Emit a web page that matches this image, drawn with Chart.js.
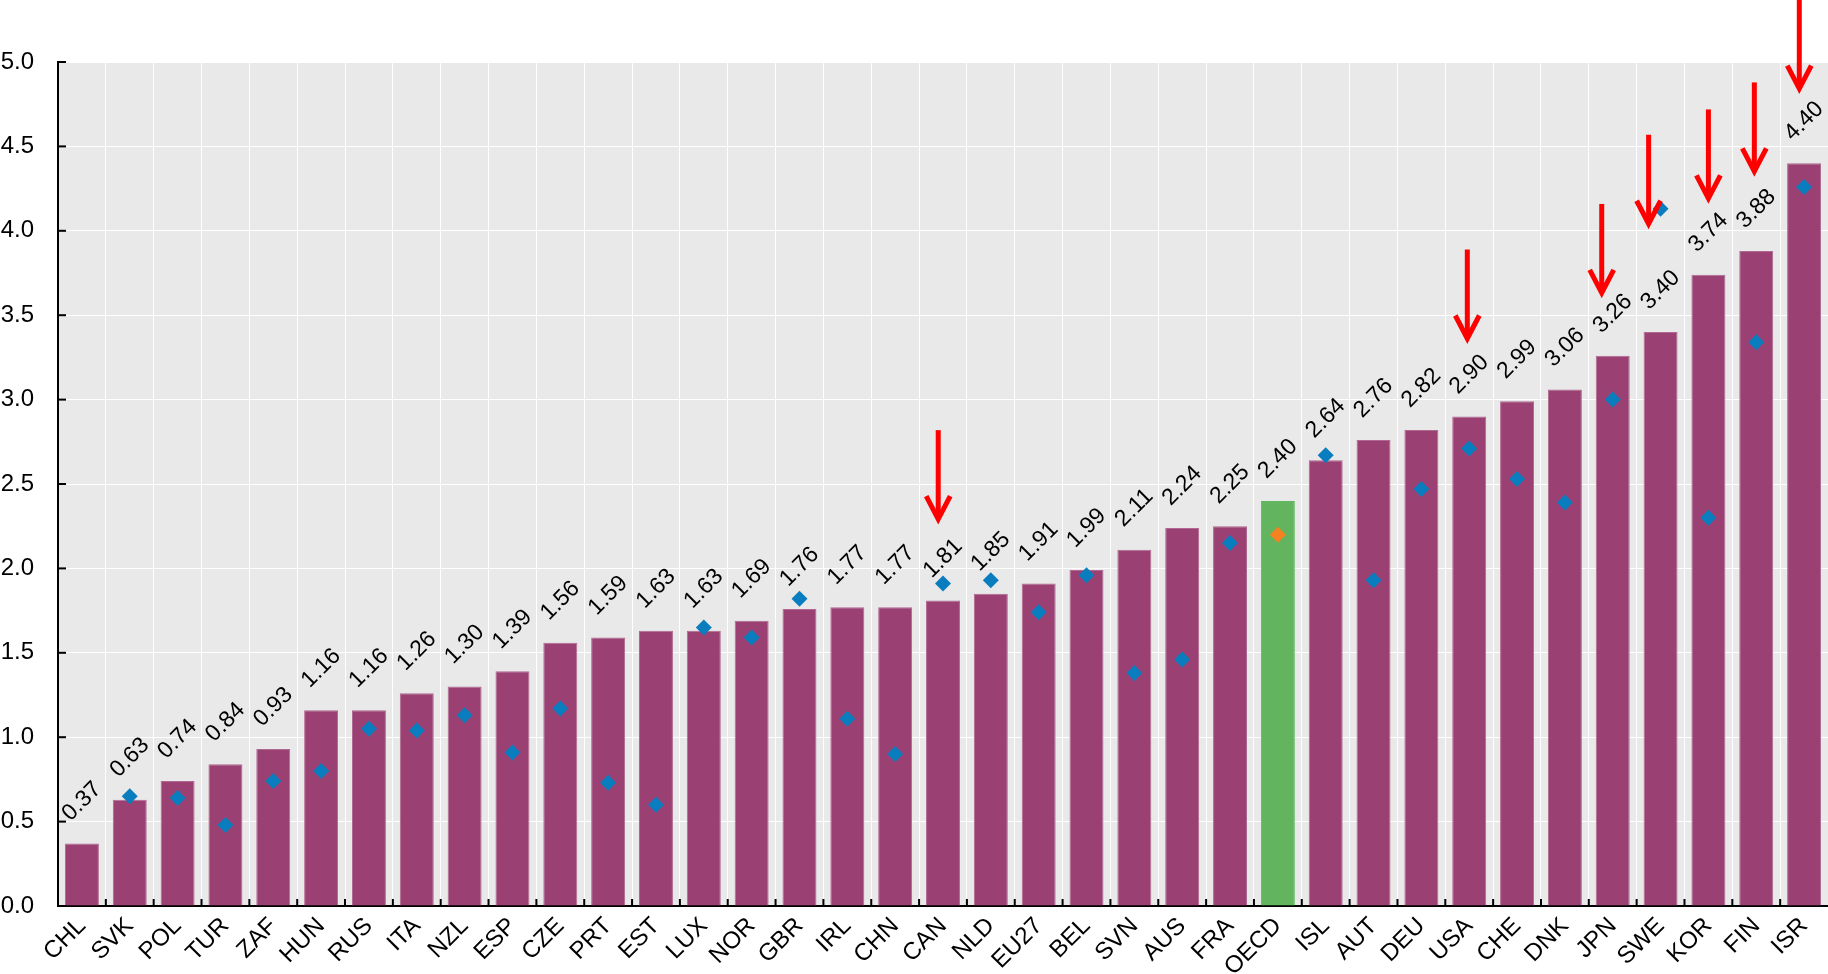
<!DOCTYPE html>
<html>
<head>
<meta charset="utf-8">
<script src="https://cdn.jsdelivr.net/npm/chart.js@4/dist/chart.umd.min.js"></script>
<style>
  body { margin: 0; background: #fff; }
  #wrap { width: 1828px; height: 974px; }
</style>
</head>
<body>
<div id="wrap"><canvas id="chart" width="1828" height="974"></canvas></div>
<script>
// Categories, bar values, diamond values, and where the red arrows point
var countries = ["CHL","SVK","POL","TUR","ZAF","HUN","RUS","ITA","NZL","ESP","CZE","PRT","EST","LUX","NOR","GBR","IRL","CHN","CAN","NLD","EU27","BEL","SVN","AUS","FRA","OECD","ISL","AUT","DEU","USA","CHE","DNK","JPN","SWE","KOR","FIN","ISR"];
var barValues = [0.37,0.63,0.74,0.84,0.93,1.16,1.16,1.26,1.30,1.39,1.56,1.59,1.63,1.63,1.69,1.76,1.77,1.77,1.81,1.85,1.91,1.99,2.11,2.24,2.25,2.40,2.64,2.76,2.82,2.90,2.99,3.06,3.26,3.40,3.74,3.88,4.40];
var diamondValues = [null,0.65,0.64,0.48,0.74,0.80,1.05,1.04,1.13,0.91,1.17,0.73,0.60,1.65,1.59,1.82,1.11,0.90,1.91,1.93,1.74,1.96,1.38,1.46,2.15,2.20,2.67,1.93,2.47,2.71,2.53,2.39,3.00,4.13,2.30,3.34,4.26];
// arrows: category, tip value, and a small sideways shift in category units
var arrowCountries = ["CAN","USA","JPN","SWE","KOR","FIN","ISR"];
var arrowTips = [2.28,3.35,3.62,4.03,4.18,4.34,4.83];
var arrowShift = [-0.1,-0.04,-0.23,-0.25,0,-0.04,-0.1];
var yTicks = [0,0.5,1,1.5,2,2.5,3,3.5,4,4.5,5];

var highlight = "OECD";
var barColors = countries.map(function(c) { return c === highlight ? "#63b45f" : "#9b4073"; });
var barBorders = countries.map(function(c) { return c === highlight ? "#63b45f" : "#b06890"; });
var dotColors = countries.map(function(c) { return c === highlight ? "#f58220" : "#0a7dbf"; });
var narrow = "'Liberation Sans Narrow', 'Arial Narrow', 'Liberation Sans', Arial";

var plotBackground = {
    id: 'plotBackground',
    beforeDraw: function(chart) {
        var a = chart.chartArea, ctx = chart.ctx;
        ctx.save();
        ctx.fillStyle = "#e9e9e9";
        ctx.fillRect(a.left, a.top, a.right - a.left, a.bottom - a.top);
        ctx.restore();
    }
};

// inward tick marks, value labels and arrows
var extras = {
    id: 'extras',
    afterDraw: function(chart) {
        var ctx = chart.ctx, a = chart.chartArea;
        var xs = chart.scales.x, ys = chart.scales.y;
        ctx.save();
        ctx.strokeStyle = "#000";
        ctx.lineWidth = 2;
        yTicks.forEach(function(v) {
            var y = ys.getPixelForValue(v);
            ctx.beginPath(); ctx.moveTo(a.left, y); ctx.lineTo(a.left + 8, y); ctx.stroke();
        });
        for (var i = 1; i < countries.length; i++) {
            var bx = (xs.getPixelForValue(i) + xs.getPixelForValue(i - 1)) / 2;
            ctx.beginPath(); ctx.moveTo(bx, a.bottom); ctx.lineTo(bx, a.bottom - 7); ctx.stroke();
        }

        ctx.fillStyle = "#000";
        ctx.font = "23px " + narrow;
        ctx.textAlign = "center";
        ctx.textBaseline = "middle";
        barValues.forEach(function(v, i) {
            var x = xs.getPixelForValue(i), y = ys.getPixelForValue(v) - 42;
            ctx.save();
            ctx.translate(x, y);
            ctx.rotate(-Math.PI / 4);
            ctx.fillText(v.toFixed(2), 0, 0);
            ctx.restore();
        });

        ctx.strokeStyle = "#ff0000";
        ctx.lineWidth = 5;
        ctx.lineJoin = "miter";
        arrowCountries.forEach(function(c, k) {
            var i = countries.indexOf(c);
            var x = xs.getPixelForValue(i + arrowShift[k]), y = ys.getPixelForValue(arrowTips[k]);
            ctx.beginPath(); ctx.moveTo(x, y - 91); ctx.lineTo(x, y - 3); ctx.stroke();
            ctx.beginPath(); ctx.moveTo(x - 12, y - 25); ctx.lineTo(x, y - 2); ctx.lineTo(x + 12, y - 25); ctx.stroke();
        });
        ctx.restore();
    }
};

var ctx = document.getElementById("chart").getContext("2d");
var myChart = new Chart(ctx, {
    type: 'bar',
    data: {
        labels: countries,
        datasets: [
            {
                type: 'line',
                data: diamondValues,
                showLine: false,
                pointStyle: 'rectRot',
                pointRadius: 8,
                pointBackgroundColor: dotColors,
                pointBorderColor: dotColors,
                pointBorderWidth: 0,
                order: 0
            },
            {
                data: barValues,
                backgroundColor: barColors,
                borderColor: barBorders,
                borderWidth: 1,
                barPercentage: 0.71,
                categoryPercentage: 1,
                order: 1
            }
        ]
    },
    options: {
        responsive: false,
        animation: false,
        layout: { autoPadding: false, padding: { top: 62, right: 0, left: 0, bottom: 0 } },
        plugins: {
            legend: { display: false },
            tooltip: { enabled: false }
        },
        scales: {
            x: {
                grid: { color: "#ffffff", lineWidth: 1, drawTicks: false, offset: true },
                border: { color: "#000", width: 2 },
                ticks: {
                    color: "#000",
                    font: { family: narrow, size: 24 },
                    maxRotation: 45,
                    minRotation: 45,
                    autoSkip: false,
                    padding: 6
                },
                afterFit: function(s) { s.height = 68; s.paddingLeft = 0; s.paddingRight = 0; }
            },
            y: {
                min: 0,
                max: 5,
                grid: { color: "#ffffff", lineWidth: 1, drawTicks: false },
                border: { color: "#000", width: 2 },
                ticks: {
                    stepSize: 0.5,
                    color: "#000",
                    font: { family: narrow, size: 24 },
                    padding: 24,
                    callback: function(v) { return v.toFixed(1); }
                },
                afterFit: function(s) { s.width = 58; s.paddingTop = 0; s.paddingBottom = 0; }
            }
        }
    },
    plugins: [plotBackground, extras]
});
</script>
</body>
</html>
